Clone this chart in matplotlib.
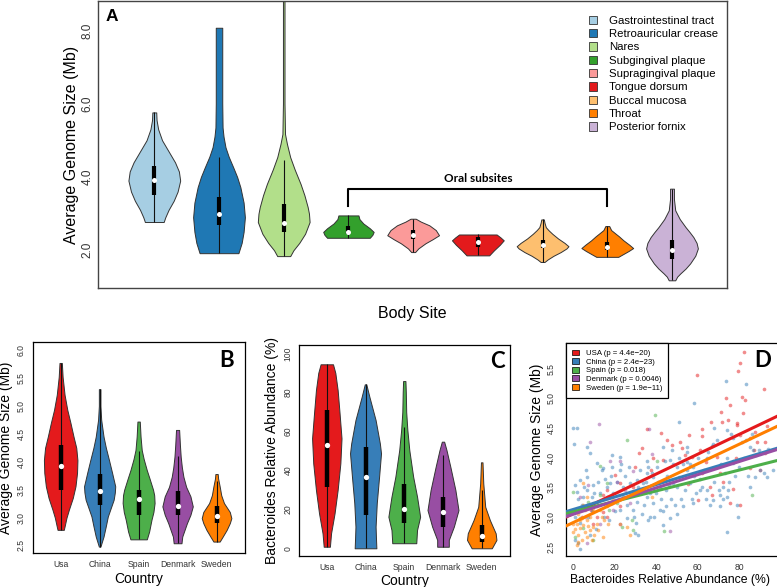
import numpy as np
import matplotlib
matplotlib.use("Agg")
import matplotlib.pyplot as plt
from matplotlib.patches import Patch

plt.rcParams['font.family'] = ['Liberation Sans', 'DejaVu Sans']

# ---------------- panel A: body sites ----------------
site_names = ["Gastrointestinal tract", "Retroauricular crease", "Nares",
              "Subgingival plaque", "Supragingival plaque", "Tongue dorsum",
              "Buccal mucosa", "Throat", "Posterior fornix"]
site_colors = ["#a6cee3", "#1f78b4", "#b2df8a", "#33a02c", "#fb9a99",
               "#e31a1c", "#fdbf6f", "#ff7f00", "#cab2d6"]
oral_sites = ["Subgingival plaque", "Throat"]

# violin outlines: genome size levels and half widths
site_prof_y = [
    [2.77, 2.9, 3.1, 3.35, 3.6, 3.9, 4.15, 4.4, 4.7, 5.0, 5.3, 5.55, 5.76],
    [1.92, 2.2, 2.5, 2.9, 3.3, 3.72, 4.0, 4.26, 4.55, 4.81, 5.1, 5.35, 6.0, 7.0, 8.07],
    [1.84, 2.0, 2.2, 2.45, 2.77, 3.0, 3.18, 3.5, 3.81, 4.2, 4.54, 4.9, 5.17, 6.0, 10.0],
    [2.34, 2.42, 2.50, 2.6, 2.73, 2.85, 2.95],
    [1.95, 2.05, 2.19, 2.3, 2.41, 2.55, 2.68, 2.78, 2.86],
    [1.86, 2.0, 2.15, 2.27, 2.35, 2.43],
    [1.68, 1.75, 1.85, 1.95, 2.05, 2.11, 2.2, 2.32, 2.45, 2.55, 2.63, 2.75, 2.84],
    [1.82, 1.9, 1.98, 2.06, 2.15, 2.27, 2.38, 2.45, 2.55, 2.66],
    [1.18, 1.28, 1.37, 1.5, 1.64, 1.85, 2.05, 2.2, 2.36, 2.5, 2.63, 2.85, 3.09, 3.4, 3.68],
]
site_prof_w = [
    [0.145, 0.17, 0.22, 0.30, 0.36, 0.40, 0.38, 0.32, 0.22, 0.12, 0.06, 0.035, 0.03],
    [0.30, 0.35, 0.38, 0.40, 0.38, 0.33, 0.28, 0.22, 0.15, 0.10, 0.07, 0.055, 0.05, 0.05, 0.05],
    [0.10, 0.15, 0.24, 0.33, 0.40, 0.39, 0.37, 0.32, 0.26, 0.17, 0.10, 0.05, 0.02, 0.012, 0.012],
    [0.33, 0.37, 0.39, 0.33, 0.23, 0.17, 0.155],
    [0.03, 0.08, 0.19, 0.30, 0.40, 0.35, 0.25, 0.12, 0.04],
    [0.175, 0.25, 0.34, 0.40, 0.35, 0.29],
    [0.03, 0.08, 0.17, 0.28, 0.37, 0.40, 0.34, 0.24, 0.15, 0.09, 0.05, 0.03, 0.02],
    [0.17, 0.25, 0.33, 0.40, 0.34, 0.25, 0.18, 0.13, 0.06, 0.03],
    [0.05, 0.08, 0.13, 0.21, 0.28, 0.36, 0.40, 0.38, 0.33, 0.27, 0.21, 0.12, 0.05, 0.03, 0.03],
]
site_q1 = [3.52, 2.68, 2.50, 2.45, 2.32, 2.09, 2.05, 2.02, 1.77]
site_med = [3.93, 2.98, 2.75, 2.50, 2.41, 2.23, 2.15, 2.09, 2.00]
site_q3 = [4.31, 3.45, 3.27, 2.65, 2.54, 2.35, 2.27, 2.22, 2.29]
site_lo = [2.77, 1.92, 1.84, 2.34, 1.95, 1.86, 1.68, 1.82, 1.18]
site_hi = [5.76, 4.55, 4.45, 2.95, 2.86, 2.43, 2.84, 2.66, 3.68]

# ---------------- panels B and C: countries ----------------
countries = ["Usa", "China", "Spain", "Denmark", "Sweden"]
country_colors = ["#e41a1c", "#377eb8", "#4daf4a", "#984ea3", "#ff7f00"]

gs_prof_y = [
    [2.78, 2.84, 3.0, 3.14, 3.35, 3.56, 3.8, 4.03, 4.25, 4.45, 4.7, 4.93, 5.2, 5.52, 5.77],
    [2.48, 2.66, 2.85, 3.02, 3.2, 3.32, 3.45, 3.56, 3.8, 4.03, 4.25, 4.45, 4.75, 5.0, 5.30],
    [2.61, 2.75, 2.96, 3.1, 3.26, 3.4, 3.50, 3.7, 3.85, 4.05, 4.21, 4.45, 4.72],
    [2.54, 2.66, 2.78, 2.90, 3.05, 3.20, 3.38, 3.55, 3.73, 3.9, 4.09, 4.3, 4.57],
    [2.57, 2.65, 2.78, 2.90, 2.99, 3.1, 3.26, 3.4, 3.56, 3.7, 3.78],
]
gs_prof_w = [
    [0.08, 0.10, 0.15, 0.21, 0.31, 0.38, 0.42, 0.43, 0.40, 0.33, 0.25, 0.17, 0.10, 0.05, 0.03],
    [0.02, 0.10, 0.16, 0.21, 0.30, 0.36, 0.39, 0.40, 0.32, 0.24, 0.16, 0.10, 0.04, 0.02, 0.02],
    [0.21, 0.27, 0.33, 0.38, 0.41, 0.40, 0.37, 0.28, 0.21, 0.13, 0.08, 0.05, 0.03],
    [0.10, 0.12, 0.18, 0.24, 0.33, 0.39, 0.33, 0.22, 0.15, 0.11, 0.08, 0.06, 0.04],
    [0.08, 0.15, 0.26, 0.34, 0.38, 0.34, 0.19, 0.12, 0.08, 0.04, 0.03],
]
gs_q1 = [3.50, 3.23, 3.05, 3.05, 2.90]
gs_med = [3.93, 3.48, 3.33, 3.21, 3.03]
gs_q3 = [4.30, 3.78, 3.50, 3.47, 3.20]
gs_lo = [2.78, 2.48, 2.61, 2.54, 2.57]
gs_hi = [5.77, 5.30, 4.20, 4.10, 3.65]

ab_prof_y = [
    [0.8, 7.7, 17.9, 29.9, 43.6, 56.4, 69.2, 81.2, 90.0, 94.4],
    [0.0, 5.0, 11.1, 23.1, 36.7, 48.7, 53.8, 65.8, 77.7, 84.1],
    [2.6, 9.4, 16.2, 26.5, 36.7, 50.4, 60.7, 70.0, 80.0, 85.8],
    [0.8, 4.3, 11.1, 19.6, 29.9, 41.8, 50.4, 54.7],
    [0.0, 4.3, 7.7, 14.5, 21.3, 33.3, 44.1],
]
ab_prof_w = [
    [0.08, 0.11, 0.20, 0.28, 0.35, 0.38, 0.33, 0.28, 0.22, 0.16],
    [0.28, 0.27, 0.26, 0.29, 0.35, 0.40, 0.37, 0.26, 0.10, 0.02],
    [0.31, 0.33, 0.41, 0.33, 0.23, 0.13, 0.08, 0.05, 0.04, 0.03],
    [0.15, 0.15, 0.28, 0.40, 0.32, 0.19, 0.09, 0.03],
    [0.26, 0.38, 0.36, 0.21, 0.09, 0.04, 0.02],
]
ab_q1 = [31.3, 17.1, 12.8, 11.1, 3.4]
ab_med = [53.0, 36.4, 20.0, 18.5, 6.3]
ab_q3 = [70.9, 52.1, 33.0, 26.2, 11.9]
ab_lo = [0.8, 0.0, 2.6, 0.8, 0.0]
ab_hi = [94.4, 84.1, 62.0, 48.0, 30.0]

# ---------------- panel D: scatter + fits ----------------
d_labels = ["USA (p = 4.4e\u221220)", "China (p = 2.4e\u221223)", "Spain (p = 0.018)",
            "Denmark (p = 0.0046)", "Sweden (p = 1.9e\u221211)"]
d_intercepts = [3.06, 3.13, 3.09, 3.05, 2.91]
d_slopes = [0.0167, 0.0105, 0.0088, 0.0111, 0.0165]

usa_pts = [(82.4, 5.78), (80.3, 5.60), (79.5, 5.47), (59.4, 5.40), (92.0, 5.16), (73.6, 5.00),
           (81.1, 5.02), (82.7, 4.98), (75.5, 4.89), (71.2, 4.78), (66.5, 4.61), (35.7, 4.49),
           (42.1, 4.42), (47.4, 4.22), (33.3, 4.16), (55.6, 4.38), (61.8, 4.48), (71.5, 4.61),
           (74.7, 4.64), (78.7, 4.55), (80.3, 4.39), (85.1, 4.33), (87.6, 4.44), (93.2, 4.53),
           (88.4, 4.27), (92.4, 4.27), (87.2, 4.13), (78.2, 3.99), (51.4, 4.27), (52.2, 4.16),
           (57.0, 4.02), (61.0, 4.13), (69.1, 4.02), (70.7, 3.74), (72.3, 3.60), (65.9, 3.51),
           (60.2, 3.29), (38.6, 3.99), (43.0, 3.96), (31.8, 4.08), (37.4, 3.79), (29.7, 3.85),
           (22.5, 3.57), (20.2, 3.71), (28.9, 3.51), (25.7, 3.34), (16.1, 3.46), (18.5, 3.23),
           (14.5, 3.09), (11.6, 3.01), (8.4, 3.12), (4.3, 3.01), (9.6, 2.89), (16.1, 3.01),
           (75.5, 3.23), (80.3, 3.20), (77.1, 3.48), (55.4, 3.56), (61.8, 3.75), (90.0, 3.79),
           (85.1, 3.82), (92.4, 4.08), (66.7, 3.37), (14.5, 3.37), (22.5, 3.18), (81.9, 4.75),
           (61.9, 4.36), (79.0, 4.59), (64.0, 3.93), (45.0, 4.30), (54.0, 4.05)]
china_pts = [(0.0, 4.50), (1.9, 4.50), (0.5, 4.24), (6.4, 4.19), (73.6, 5.30), (83.2, 5.25),
             (58.2, 4.93), (51.1, 4.61), (67.8, 4.51), (73.9, 4.47), (77.1, 4.33), (81.4, 4.27),
             (85.1, 4.19), (89.6, 4.13), (67.5, 4.24), (54.6, 4.19), (47.4, 4.13), (43.4, 4.19),
             (46.6, 3.96), (54.6, 3.93), (57.8, 3.85), (64.3, 3.99), (70.7, 3.88), (77.1, 3.91),
             (72.3, 3.51), (74.7, 3.46), (70.7, 3.37), (73.9, 3.34), (64.3, 3.46), (67.5, 3.29),
             (57.8, 3.23), (53.0, 3.18), (49.8, 3.06), (46.6, 2.98), (43.4, 2.87), (70.7, 3.18),
             (79.5, 3.01), (73.9, 2.75), (61.0, 3.46), (56.2, 3.57), (51.1, 3.68), (47.9, 3.57),
             (44.7, 3.46), (41.8, 3.51), (38.6, 3.68), (35.3, 3.74), (33.7, 3.57), (30.5, 3.63),
             (27.3, 3.57), (22.5, 3.79), (18.5, 4.04), (18.5, 3.85), (14.5, 3.82), (11.2, 3.91),
             (8.0, 4.08), (22.5, 4.02), (30.5, 3.26), (28.9, 3.12), (29.7, 2.73), (31.3, 2.70),
             (25.7, 2.98), (22.5, 3.12), (20.9, 3.29), (17.7, 3.34), (12.9, 3.40), (9.6, 3.54),
             (6.4, 3.68), (3.2, 3.63), (0.8, 3.54), (1.6, 3.43), (0.0, 3.12), (0.8, 2.61),
             (2.4, 2.56), (3.2, 2.47), (6.4, 3.18), (11.2, 3.26), (35.3, 3.34), (38.6, 3.23),
             (41.8, 3.12), (44.7, 3.18), (36.9, 3.01), (17.7, 3.57), (15.3, 3.65), (6.4, 3.46),
             (4.8, 3.34), (8.8, 3.34), (54.6, 3.80), (49.8, 3.85), (40.2, 3.85), (36.1, 3.85),
             (87.6, 3.68), (93.2, 3.68), (96.4, 3.79), (86.7, 4.13), (35.3, 3.94),
             (2.0, 3.30), (4.0, 3.20), (5.0, 3.50), (7.0, 3.00), (9.0, 3.10), (10.0, 3.40),
             (12.0, 3.60), (13.0, 3.20), (15.0, 3.00), (16.0, 3.50), (18.0, 3.70), (19.0, 3.40),
             (21.0, 3.60), (22.0, 3.30), (24.0, 3.50), (25.0, 3.70), (26.0, 3.20), (28.0, 3.40),
             (29.0, 3.00), (31.0, 3.50), (32.0, 3.80), (34.0, 3.20), (35.0, 3.60), (37.0, 3.40),
             (39.0, 3.00), (41.0, 3.60), (42.0, 3.30), (45.0, 3.70), (47.0, 3.30), (48.0, 3.90),
             (50.0, 3.50), (52.0, 3.30), (53.0, 3.90), (55.0, 4.10), (57.0, 3.30), (58.0, 3.70),
             (60.0, 4.00), (62.0, 3.50), (63.0, 3.80), (65.0, 4.10), (66.0, 3.20), (68.0, 3.60),
             (69.0, 4.30), (71.0, 3.90), (72.0, 3.30), (74.0, 4.00), (75.0, 3.60), (76.0, 4.40),
             (78.0, 3.70), (79.0, 3.20), (82.0, 4.00), (84.0, 3.70), (86.0, 4.40), (90.0, 3.80),
             (6.0, 3.80), (3.0, 2.90), (1.0, 3.00), (8.0, 2.70), (11.0, 2.80), (14.0, 3.80),
             (17.0, 2.95), (20.0, 3.10), (23.0, 3.90), (27.0, 3.85), (30.0, 2.90), (33.0, 3.05),
             (36.0, 2.95), (38.0, 3.75), (40.0, 3.40), (43.0, 3.10), (44.0, 3.95), (46.0, 3.55),
             (49.0, 3.20), (51.0, 4.00), (54.0, 3.45), (56.0, 3.90), (59.0, 3.40), (61.0, 3.65),
             (64.0, 3.30), (67.0, 4.20), (70.0, 3.45), (73.0, 3.75), (77.0, 3.95), (80.0, 3.85),
             (83.0, 4.30), (85.0, 3.50), (88.0, 4.05), (92.0, 3.75), (94.0, 4.15)]
spain_pts = [(39.4, 4.72), (25.7, 4.30), (12.9, 3.87), (40.2, 3.94), (0.0, 3.43), (12.9, 3.37),
             (20.9, 3.23), (28.1, 2.95), (23.3, 2.84), (28.9, 2.78), (43.7, 2.77), (0.8, 2.67),
             (9.6, 2.61), (4.8, 2.81), (85.9, 3.38), (17.3, 3.12), (3.2, 2.98), (16.1, 3.57),
             (24.1, 3.34), (7.0, 3.25)]
denmark_pts = [(12.4, 4.57), (36.5, 4.48), (8.0, 4.27), (17.7, 3.94), (22.5, 3.94), (28.9, 3.77),
               (37.8, 4.06), (46.6, 2.77), (6.4, 2.56), (12.9, 2.89), (20.9, 3.60), (27.3, 3.23),
               (16.1, 3.34), (9.6, 3.23), (5.6, 3.01), (3.2, 3.34), (22.5, 2.89), (19.3, 3.12),
               (7.2, 3.54), (25.0, 3.45)]
sweden_pts = [(0.8, 3.12), (2.4, 3.06), (4.0, 2.98), (1.9, 2.89), (4.8, 2.87), (6.4, 2.95),
              (8.0, 3.01), (3.2, 2.81), (5.6, 2.75), (8.0, 2.78), (2.4, 2.70), (9.6, 2.84),
              (11.2, 2.89), (13.7, 3.01), (4.0, 2.61), (6.4, 2.67), (2.4, 2.58), (1.6, 2.53),
              (8.8, 2.61), (12.9, 3.12), (16.1, 3.18), (19.3, 3.29), (16.9, 2.89), (9.6, 3.12),
              (4.8, 3.20), (11.2, 3.18), (6.4, 3.34), (4.8, 3.57), (25.7, 2.84), (27.3, 2.70),
              (14.5, 2.67), (22.5, 2.89), (0.0, 2.75), (0.0, 2.89), (5.6, 3.12), (12.0, 2.78),
              (37.8, 3.34), (3.0, 2.95), (7.0, 2.85), (10.0, 2.70), (1.0, 2.80), (15.0, 2.95)]
d_points = [usa_pts, china_pts, spain_pts, denmark_pts, sweden_pts]


def draw_violin(ax, pos, ys, ws, color, q1, med, q3, lo, hi, bar_lw=3.0, dot_ms=3.6):
    ys = np.asarray(ys)
    ws = np.asarray(ws)
    ax.fill_betweenx(ys, pos - ws, pos + ws, facecolor=color, edgecolor="#333333",
                     lw=0.7, zorder=2)
    ax.vlines(pos, lo, hi, color="#111111", lw=0.8, zorder=3)
    ax.vlines(pos, q1, q3, color="black", lw=bar_lw, zorder=4)
    ax.plot(pos, med, "o", color="white", ms=dot_ms, mec="none", zorder=5)


fig = plt.figure(figsize=(7.77, 5.87), dpi=100)

# ---- A ----
axA = fig.add_axes([98 / 777, 1 - 288 / 587, 629 / 777, 287 / 587])
for i in range(len(site_names)):
    draw_violin(axA, i + 1, site_prof_y[i], site_prof_w[i], site_colors[i],
                site_q1[i], site_med[i], site_q3[i], site_lo[i], site_hi[i])
axA.set_xlim(0.13, 9.85)
axA.set_ylim(0.97, 8.8)
axA.set_xticks([])
axA.set_yticks([2, 4, 6, 8])
axA.set_yticklabels(["2.0", "4.0", "6.0", "8.0"], rotation=90, va="center", fontsize=8.5,
                    color="#333333")
axA.tick_params(axis="y", length=0, pad=3)
axA.set_ylabel("Average Genome Size (Mb)", fontsize=11.5, labelpad=2)
axA.set_xlabel("Body Site", fontsize=11.5, labelpad=13)
for sp in axA.spines.values():
    sp.set_color("#444444")
    sp.set_linewidth(1.0)
axA.text(0.012, 0.945, "A", transform=axA.transAxes, fontsize=12.5, fontweight="bold",
         ha="left", va="center")

# oral subsites bracket
i0 = site_names.index(oral_sites[0]) + 1
i1 = site_names.index(oral_sites[1]) + 1
top = max(site_hi[i0 - 1:i1])
axA.plot([i0, i0, i1, i1], [top + 0.25, top + 0.73, top + 0.73, top + 0.25],
         color="black", lw=1.5, zorder=3)
axA.text((i0 + i1) / 2, top + 1.0, "Oral subsites", ha="center", va="center",
         fontsize=8.5, fontweight="bold", family=["Lato", "DejaVu Sans"])

handlesA = [Patch(facecolor=c, edgecolor="#333333", lw=0.6) for c in site_colors]
axA.legend(handlesA, site_names, loc="upper left", bbox_to_anchor=(0.764, 0.985),
           frameon=False, fontsize=8.2, handlelength=0.75, handleheight=0.75,
           handletextpad=1.0, labelspacing=0.28, borderpad=0.4)


def country_panel(rect, prof_y, prof_w, q1, med, q3, lo, hi, ylim, yticks, yticklabels,
                  ylabel, letter, letter_xy):
    ax = fig.add_axes(rect)
    for i in range(len(countries)):
        draw_violin(ax, i + 1, prof_y[i], prof_w[i], country_colors[i],
                    q1[i], med[i], q3[i], lo[i], hi[i], bar_lw=3.2, dot_ms=3.8)
    ax.set_xlim(0.29, 5.73)
    ax.set_ylim(*ylim)
    ax.set_xticks(range(1, len(countries) + 1))
    ax.set_xticklabels(countries, fontsize=6.2, color="#333333")
    ax.set_yticks(yticks)
    ax.set_yticklabels(yticklabels, rotation=90, va="center", fontsize=6.2, color="#333333")
    ax.tick_params(axis="x", length=0, pad=5)
    ax.tick_params(axis="y", length=0, pad=5)
    ax.set_xlabel("Country", fontsize=10, labelpad=2)
    ax.set_ylabel(ylabel, fontsize=10, labelpad=3)
    for sp in ax.spines.values():
        sp.set_linewidth(0.9)
    ax.text(letter_xy[0], letter_xy[1], letter, transform=ax.transAxes, fontsize=16,
            fontweight="bold", ha="center", va="center", family=["Lato", "DejaVu Sans"])
    return ax


axB = country_panel([33 / 777, 1 - 553.3 / 587, 212 / 777, 211 / 587],
                    gs_prof_y, gs_prof_w, gs_q1, gs_med, gs_q3, gs_lo, gs_hi,
                    (2.36, 6.14), [2.5, 3.0, 3.5, 4.0, 4.5, 5.0, 5.5, 6.0],
                    ["2.5", "3.0", "3.5", "4.0", "4.5", "5.0", "5.5", "6.0"],
                    "Average Genome Size (Mb)", "B", (0.914, 0.916))

axC = country_panel([299.3 / 777, 1 - 555.7 / 587, 210.7 / 777, 210.7 / 587],
                    ab_prof_y, ab_prof_w, ab_q1, ab_med, ab_q3, ab_lo, ab_hi,
                    (-3.8, 104.3), [0, 20, 40, 60, 80, 100],
                    ["0", "20", "40", "60", "80", "100"],
                    "Bacteroides Relative Abundance (%)", "C", (0.94, 0.92))

# ---- D ----
axD = fig.add_axes([565.7 / 777, 1 - 555.7 / 587, 219.3 / 777, 212.4 / 587])
for pts, col in zip(d_points, country_colors):
    arr = np.array(pts)
    axD.scatter(arr[:, 0], arr[:, 1], s=7, color=col, alpha=0.5, lw=0, zorder=2)
for b, m, col in zip(d_intercepts, d_slopes, country_colors):
    axD.axline((0, b), slope=m, color=col, lw=2.2, zorder=3)
axD.set_xlim(-3.7, 102)
axD.set_ylim(2.35, 5.93)
axD.set_xticks([0, 20, 40, 60, 80])
axD.set_xticklabels(["0", "20", "40", "60", "80"], fontsize=6.2, color="#333333")
axD.set_yticks([2.5, 3.0, 3.5, 4.0, 4.5, 5.0, 5.5])
axD.set_yticklabels(["2.5", "3.0", "3.5", "4.0", "4.5", "5.0", "5.5"], rotation=90,
                    va="center", fontsize=6.2, color="#333333")
axD.tick_params(axis="x", length=0, pad=5)
axD.tick_params(axis="y", length=0, pad=7)
axD.set_xlabel("Bacteroides Relative Abundance (%)", fontsize=8.8, labelpad=2)
axD.xaxis.set_label_coords(0.475, -0.085)
axD.set_ylabel("Average Genome Size (Mb)", fontsize=10, labelpad=2)
for sp in axD.spines.values():
    sp.set_linewidth(0.9)
axD.text(0.90, 0.921, "D", transform=axD.transAxes, fontsize=16, fontweight="bold",
         ha="center", va="center", family=["Lato", "DejaVu Sans"])
handlesD = [Patch(facecolor=c, edgecolor="black", lw=0.5) for c in country_colors]
legD = axD.legend(handlesD, d_labels, loc="upper left", bbox_to_anchor=(0, 1),
                  borderaxespad=0, fancybox=False, edgecolor="black", framealpha=1,
                  fontsize=5.6, handlelength=0.85, handleheight=0.8, handletextpad=0.9,
                  labelspacing=0.12, borderpad=0.8)
legD.get_frame().set_linewidth(0.9)
legD.set_zorder(6)

fig.savefig("out.png", dpi=100)
